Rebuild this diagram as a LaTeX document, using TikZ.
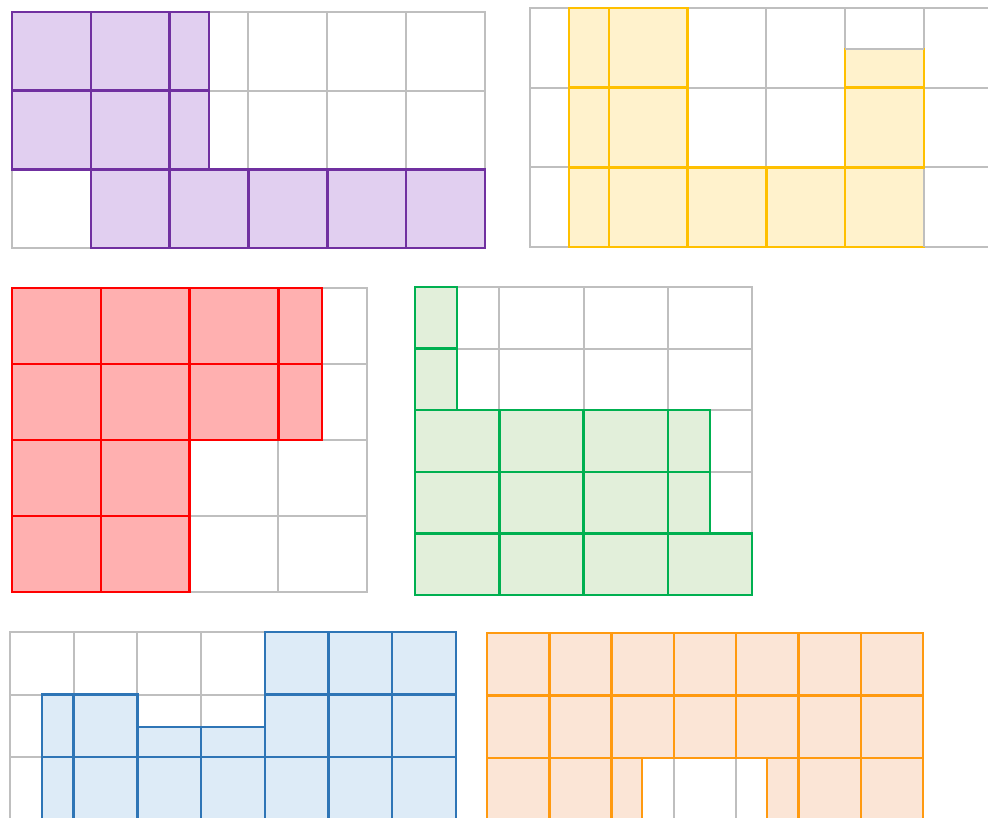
\documentclass[tikz,border=0pt]{standalone}
\definecolor{gridgray}{HTML}{BFBFBF}
\definecolor{purpline}{HTML}{7030A0}
\definecolor{purpfill}{HTML}{E1CFF0}
\definecolor{yelline}{HTML}{FFC000}
\definecolor{yelfill}{HTML}{FFF2CC}
\definecolor{redline}{HTML}{FF0000}
\definecolor{redfill}{HTML}{FFB0B0}
\definecolor{grnline}{HTML}{00B050}
\definecolor{grnfill}{HTML}{E2EFDA}
\definecolor{bluline}{HTML}{2E75B6}
\definecolor{blufill}{HTML}{DDEBF7}
\definecolor{orgline}{HTML}{FF9A10}
\definecolor{orgfill}{HTML}{FBE5D6}
\begin{document}
\begin{tikzpicture}[x=1pt,y=-1pt,
  gcell/.style={draw=gridgray,line width=2pt},
  gline/.style={draw=gridgray,line width=2pt},
  pcell/.style={fill=purpfill,draw=purpline,line width=2.5pt},
  ycell/.style={fill=yelfill,draw=yelline,line width=2.5pt},
  rcell/.style={fill=redfill,draw=redline,line width=2.5pt},
  gncell/.style={fill=grnfill,draw=grnline,line width=2.5pt},
  bcell/.style={fill=blufill,draw=bluline,line width=2.5pt},
  ocell/.style={fill=orgfill,draw=orgline,line width=2.5pt}]
\useasboundingbox (0,0) rectangle (988,818);
\fill[white] (0,0) rectangle (988,818);
\clip (0,0) rectangle (988,818);
% ---------- panel 1 (purple)
\foreach \i in {0,...,5}\foreach \j in {0,1,2}
  \draw[gcell] ({12+78.83*\i},{12+78.67*\j}) rectangle ({12+78.83*(\i+1)},{12+78.67*(\j+1)});
\foreach \y/\h in {12/90.7,90.7/169.3}{
  \draw[pcell] (12,\y) rectangle (90.8,\h);
  \draw[pcell] (90.8,\y) rectangle (169.7,\h);
  \draw[pcell] (169.7,\y) rectangle (209,\h);}
\foreach \i in {1,...,5}
  \draw[pcell] ({12+78.83*\i},169.3) rectangle ({12+78.83*(\i+1)},248);
% ---------- panel 2 (yellow)
\foreach \i in {0,...,5}\foreach \j in {0,1,2}
  \draw[gcell] ({530+78.8*\i},{8+79.7*\j}) rectangle ({530+78.8*(\i+1)},{8+79.7*(\j+1)});
\foreach \j in {0,1,2}{
  \draw[ycell] (569,{8+79.7*\j}) rectangle (608.8,{8+79.7*(\j+1)});
  \draw[ycell] (608.8,{8+79.7*\j}) rectangle (687.6,{8+79.7*(\j+1)});}
\draw[ycell] (687.6,167.4) rectangle (766.4,247);
\draw[ycell] (766.4,167.4) rectangle (845.2,247);
\draw[ycell] (845.2,167.4) rectangle (924,247);
\draw[ycell] (845.2,87.7) rectangle (924,167.4);
\draw[ycell] (845.2,49) rectangle (924,87.7);
\draw[gline] (845.2,49) -- (924,49);
\draw[gline] (924,168.6) -- (924,247);
% ---------- panel 3 (red)
\foreach \i in {0,...,3}\foreach \j in {0,...,3}
  \draw[gcell] ({12+88.75*\i},{288+76*\j}) rectangle ({12+88.75*(\i+1)},{288+76*(\j+1)});
\foreach \j in {0,1}{
  \draw[rcell] (12,{288+76*\j}) rectangle (100.75,{288+76*(\j+1)});
  \draw[rcell] (100.75,{288+76*\j}) rectangle (189.5,{288+76*(\j+1)});
  \draw[rcell] (189.5,{288+76*\j}) rectangle (278.25,{288+76*(\j+1)});
  \draw[rcell] (278.25,{288+76*\j}) rectangle (322,{288+76*(\j+1)});}
\foreach \j in {2,3}{
  \draw[rcell] (12,{288+76*\j}) rectangle (100.75,{288+76*(\j+1)});
  \draw[rcell] (100.75,{288+76*\j}) rectangle (189.5,{288+76*(\j+1)});}
% ---------- panel 4 (green)
\foreach \i in {0,...,3}\foreach \j in {0,...,4}
  \draw[gcell] ({415+84.25*\i},{287+61.6*\j}) rectangle ({415+84.25*(\i+1)},{287+61.6*(\j+1)});
\foreach \j in {0,1}
  \draw[gncell] (415,{287+61.6*\j}) rectangle (457,{287+61.6*(\j+1)});
\foreach \j in {2,3}{
  \foreach \i in {0,1,2}
    \draw[gncell] ({415+84.25*\i},{287+61.6*\j}) rectangle ({415+84.25*(\i+1)},{287+61.6*(\j+1)});
  \draw[gncell] (667.75,{287+61.6*\j}) rectangle (710,{287+61.6*(\j+1)});}
\foreach \i in {0,...,3}
  \draw[gncell] ({415+84.25*\i},533.4) rectangle ({415+84.25*(\i+1)},595);
% ---------- panel 5 (blue)
\foreach \i in {0,...,6}\foreach \j in {0,1,2}
  \draw[gcell] ({10+63.7*\i},{632+62.5*\j}) rectangle ({10+63.7*(\i+1)},{632+62.5*(\j+1)});
\foreach \i in {4,5,6}{
  \draw[bcell] ({10+63.7*\i},632) rectangle ({10+63.7*(\i+1)},694.5);
  \draw[bcell] ({10+63.7*\i},694.5) rectangle ({10+63.7*(\i+1)},757);}
\draw[bcell] (42,694.5) rectangle (73.7,757);
\draw[bcell] (73.7,694.5) rectangle (137.4,757);
\draw[bcell] (137.4,727) rectangle (201.1,757);
\draw[bcell] (201.1,727) rectangle (264.8,757);
\draw[bcell] (42,757) rectangle (73.7,830);
\foreach \i in {1,...,6}
  \draw[bcell] ({10+63.7*\i},757) rectangle ({10+63.7*(\i+1)},830);
% ---------- panel 6 (orange)
\foreach \i in {0,...,6}\foreach \j in {0,1,2}
  \draw[gcell] ({487+62.29*\i},{633+62.5*\j}) rectangle ({487+62.29*(\i+1)},{633+62.5*(\j+1)});
\foreach \i in {0,...,6}\foreach \j in {0,1}
  \draw[ocell] ({487+62.29*\i},{633+62.5*\j}) rectangle ({487+62.29*(\i+1)},{633+62.5*(\j+1)});
\draw[ocell] (487,758) rectangle (549.29,830);
\draw[ocell] (549.29,758) rectangle (611.58,830);
\draw[ocell] (611.58,758) rectangle (642,830);
\draw[ocell] (767,758) rectangle (798.45,830);
\draw[ocell] (798.45,758) rectangle (860.74,830);
\draw[ocell] (860.74,758) rectangle (923,830);
\draw[orgline,line width=2.5pt] (611.58,758) -- (798.45,758);
\end{tikzpicture}
\end{document}
